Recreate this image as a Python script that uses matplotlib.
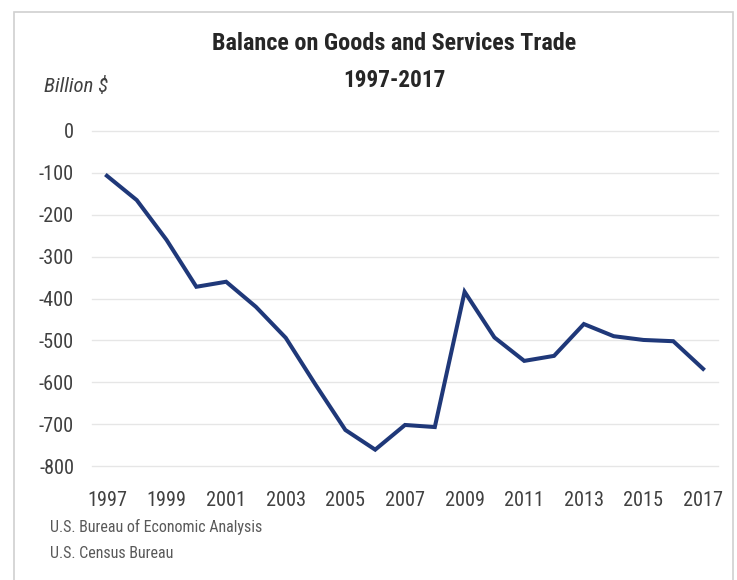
import matplotlib
matplotlib.use("Agg")
import matplotlib.pyplot as plt
from matplotlib.patches import Rectangle
from matplotlib import font_manager

# balance on goods and services, billion $
years = list(range(1997, 2018))
balance = [-107, -165, -260, -372, -360, -420, -494, -606, -714, -761,
           -702, -707, -384, -493, -549, -537, -461, -490, -499, -502, -568]
tick_years = list(range(1997, 2018, 2))
y_ticks = [0, -100, -200, -300, -400, -500, -600, -700, -800]

# narrow font if there is one, otherwise a plain sans
names = {f.name for f in font_manager.fontManager.ttflist}
wanted = ["Liberation Sans Narrow", "Roboto Condensed", "Open Sans Condensed",
          "DejaVu Sans Condensed", "Noto Sans Condensed", "Roboto", "DejaVu Sans"]
FONT = next(n for n in wanted if n in names)
plt.rcParams["font.family"] = [FONT, "DejaVu Sans"]

fig = plt.figure(figsize=(7.37, 5.80), dpi=100)
renderer = fig.canvas.get_renderer()


def fit_size(text, target_px, **kw):
    # font size that gives the text the width it has in the reference
    t = fig.text(0, 0, text, fontsize=10, **kw)
    w = t.get_window_extent(renderer=renderer).width
    t.remove()
    return 10 * target_px / w


# light frame around the chart
fig.patches.append(Rectangle((14 / 737, -0.01), (733 - 14) / 737, 1 - 12 / 580 + 0.01,
                             transform=fig.transFigure, fill=False,
                             edgecolor="#d0d0d0", linewidth=1.2))

ax = fig.add_axes([92 / 737, 1 - 466 / 580, (718 - 92) / 737, (466 - 131) / 580])
ax.plot(years, balance, color="#1f3879", linewidth=2.9, solid_joinstyle="miter",
        clip_on=False)

tick_size = fit_size("1997", 40)

ax.set_xlim(1996.5, 2017.5)
ax.set_ylim(-800, 0)
ax.set_yticks(y_ticks)
ax.set_yticklabels([str(v) for v in y_ticks])
ax.set_xticks(tick_years)
ax.set_xticklabels([str(y) for y in tick_years])
ax.grid(axis="y", color="#e6e6e6", linewidth=1.0)
for g in ax.get_ygridlines():
    g.set_clip_on(False)
ax.set_axisbelow(True)
for s in ax.spines.values():
    s.set_visible(False)
ax.tick_params(axis="both", length=0, colors="#404040", labelsize=tick_size)
ax.tick_params(axis="y", pad=18 * 0.72)
ax.tick_params(axis="x", pad=25 * 0.72)

fig.text(394.5 / 737, 1 - 44 / 580, "Balance on Goods and Services Trade",
         ha="center", va="center", color="#262626", fontweight="bold",
         fontsize=fit_size("Balance on Goods and Services Trade", 365, fontweight="bold"))
fig.text(394.5 / 737, 1 - 80 / 580, "1997-2017",
         ha="center", va="center", color="#262626", fontweight="bold",
         fontsize=fit_size("1997-2017", 103, fontweight="bold"))
fig.text(44 / 737, 1 - 87 / 580, "Billion $", ha="left", va="center",
         style="italic", color="#404040",
         fontsize=fit_size("Billion $", 64, style="italic"))

src_size = fit_size("U.S. Bureau of Economic Analysis", 213)
fig.text(50 / 737, 1 - 527 / 580, "U.S. Bureau of Economic Analysis", ha="left",
         va="center", fontsize=src_size, color="#595959")
fig.text(50 / 737, 1 - 553 / 580, "U.S. Census Bureau", ha="left",
         va="center", fontsize=src_size, color="#595959")

fig.savefig("out.png", dpi=100)
